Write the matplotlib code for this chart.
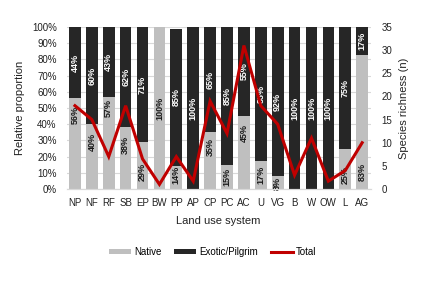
import matplotlib
matplotlib.use("Agg")
import matplotlib.pyplot as plt
from matplotlib.patches import Patch
from matplotlib.lines import Line2D
import numpy as np

plt.rcParams['font.family'] = ['Liberation Sans', 'DejaVu Sans']

categories = ["NP", "NF", "RF", "SB", "EP", "BW", "PP", "AP", "CP", "PC",
              "AC", "U", "VG", "B", "W", "OW", "L", "AG"]
native = [56, 40, 57, 38, 29, 100, 14, 0, 35, 15, 45, 17, 8, 0, 0, 0, 25, 83]
exotic = [44, 60, 43, 62, 71, 0, 85, 100, 65, 85, 55, 83, 92, 100, 100, 100, 75, 17]
total = [18, 15, 7, 18, 6.5, 1, 7, 1.7, 19, 12, 31, 18, 14, 3, 11, 1.7, 4, 10]

# label placement (layout only, in percent-axis units)
native_label_pos = [45.7, 29, 50, 27, 10.7, 50, 8.6, 0, 26, 7.6, 34.6, 8.6, 3.7, 0, 0, 0, 8.6, 10.7]

fig = plt.figure(figsize=(4.25, 2.92), dpi=100)
ax = fig.add_axes([0.1565, 0.3527, 0.7155, 0.5548])
ax2 = ax.twinx()

x = np.arange(len(categories))
w = 0.69
nat = np.array(native) / 100
exo = np.array(exotic) / 100
ax.bar(x, nat, width=w, color='#BFBFBF', zorder=2)
ax.bar(x, exo, width=w, bottom=nat, color='#262626', zorder=2)

for i in range(len(categories)):
    if native[i] > 0:
        ax.text(x[i], native_label_pos[i] / 100, f"{native[i]}%", rotation=90,
                ha='center', va='center', fontsize=6.5, fontweight='bold',
                color='#1a1a1a', zorder=4)
    if exotic[i] > 0:
        ax.text(x[i], nat[i] + exo[i] / 2, f"{exotic[i]}%", rotation=90,
                ha='center', va='center', fontsize=6.5, fontweight='bold',
                color='white', zorder=4)

ax2.plot(x, total, color='#C00000', lw=2.2, zorder=5, solid_joinstyle='miter')

ax.set_xlim(-0.5, len(categories) - 0.5)
ax.set_ylim(0, 1)
ax2.set_ylim(0, 35)
ax.set_yticks(np.arange(0, 1.01, 0.1))
ax.set_yticklabels([f"{int(round(v*100))}%" for v in np.arange(0, 1.01, 0.1)])
ax2.set_yticks(np.arange(0, 36, 5))
ax.set_xticks(x)
ax.set_xticklabels(categories)

ax.grid(axis='y', color='#D9D9D9', lw=0.8, zorder=0)
ax.set_axisbelow(True)
for a in (ax, ax2):
    for s in ['top', 'left', 'right']:
        a.spines[s].set_visible(False)
    a.spines['bottom'].set_color('#D9D9D9')
    a.tick_params(length=0, labelsize=7, colors='#222222')
ax.tick_params(axis='y', pad=7)
ax2.tick_params(axis='y', pad=8)
ax.tick_params(axis='x', pad=6.5)
ax2.set_zorder(ax.get_zorder() + 1)
ax2.patch.set_visible(False)

ax.set_ylabel("Relative proportion", fontsize=8, color='#222222', labelpad=5)
ax2.set_ylabel("Species richness (n)", fontsize=8, color='#222222', labelpad=5)
ax.set_xlabel("Land use system", fontsize=8, color='#222222', labelpad=6)

handles = [Patch(facecolor='#BFBFBF', edgecolor='none'),
           Patch(facecolor='#262626', edgecolor='none'),
           Line2D([0], [0], color='#C00000', lw=2.2)]
fig.legend(handles, ["Native", "Exotic/Pilgrim", "Total"], loc='center',
           bbox_to_anchor=(0.5, 0.137), ncol=3, frameon=False, fontsize=7,
           handlelength=2.3, handleheight=0.55, columnspacing=1.3, handletextpad=0.3)

fig.savefig("out.png", dpi=100)
